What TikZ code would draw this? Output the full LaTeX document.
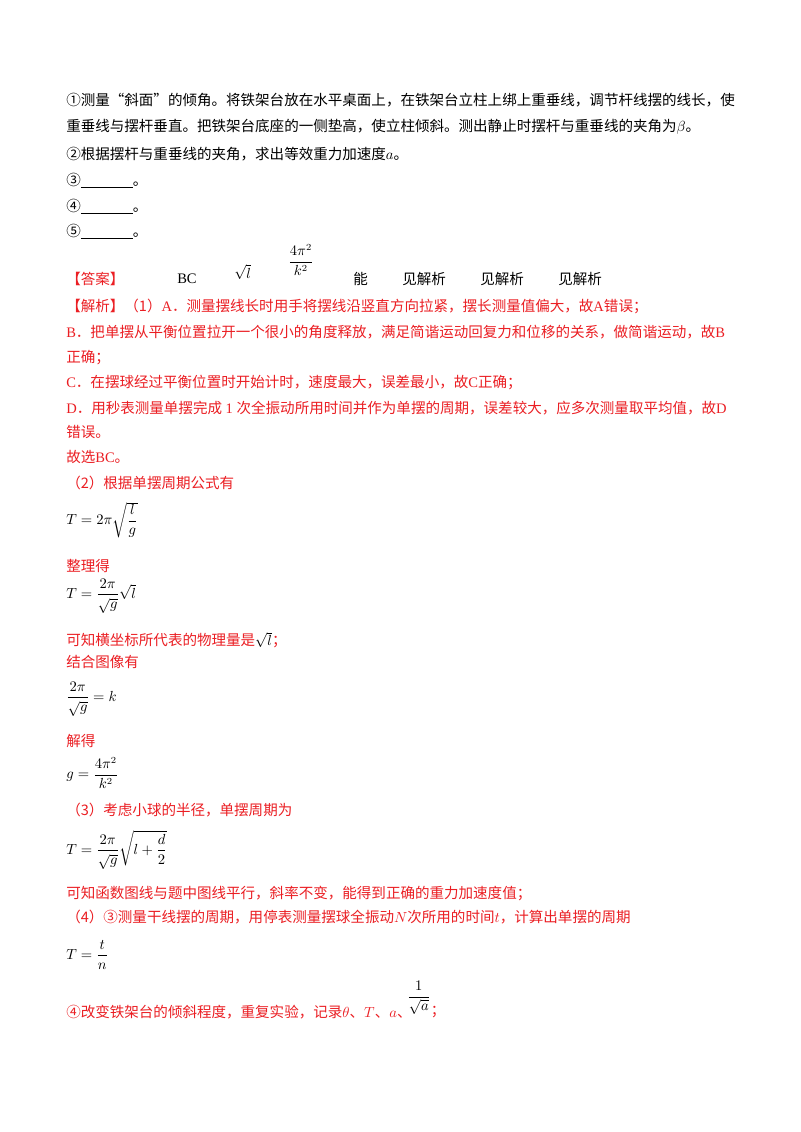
\documentclass[tikz,border=0pt]{standalone}
\usepackage{fontspec}
\usepackage{amsmath}
\setmainfont{Liberation Serif}
\newfontfamily\cjk{Noto Sans CJK SC}
\definecolor{ansred}{RGB}{235,30,35}
\newcommand{\ml}[1]{{\rmfamily #1}}
\begin{document}
\begin{tikzpicture}[x=0.75pt,y=-0.75pt,
  tl/.style={anchor=west,inner sep=0pt,font=\fontsize{10.9pt}{13pt}\selectfont\cjk},
  rl/.style={tl,text=ansred},
  eq/.style={anchor=west,inner sep=0pt,font=\fontsize{10.5pt}{12.5pt}\selectfont}]
\useasboundingbox (0,0) rectangle (800,1132);
\fill[white] (0,0) rectangle (800,1132);
\node[tl] (l1) at (66,100) {①测量“斜面”的倾角。将铁架台放在水平桌面上，在铁架台立柱上绑上重垂线，调节杆线摆的线长，使};
\node[tl] (l2) at (66,127) {重垂线与摆杆垂直。把铁架台底座的一侧垫高，使立柱倾斜。测出静止时摆杆与重垂线的夹角为$\beta$。};
\node[tl] (l3) at (66,154) {②根据摆杆与重垂线的夹角，求出等效重力加速度$a$。};
\node[tl] (l4) at (66,181) {③\ml{\underline{\hspace{39pt}}}。};
\node[tl] (l5) at (66,207) {④\ml{\underline{\hspace{39pt}}}。};
\node[tl] (l6) at (66,232) {⑤\ml{\underline{\hspace{39pt}}}。};
\node[rl] (a0) at (66,279) {【答案】};
\node[tl] (a1) at (177,279) {\ml{BC}};
\node[eq] (a2) at (234,272) {$\sqrt{l}$};
\node[eq] (a3) at (288,260) {$\dfrac{4\pi^2}{k^2}$};
\node[tl] (a4) at (353,279) {能};
\node[tl] (a5) at (402,279) {见解析};
\node[tl] (a6) at (480,279) {见解析};
\node[tl] (a7) at (558,279) {见解析};
\node[rl] (j1) at (66,306) {【解析】（1）\ml{A}．测量摆线长时用手将摆线沿竖直方向拉紧，摆长测量值偏大，故\ml{A}错误；};
\node[rl] (j2) at (66,332) {\ml{B}．把单摆从平衡位置拉开一个很小的角度释放，满足简谐运动回复力和位移的关系，做简谐运动，故\ml{B}};
\node[rl] (j3) at (66,358) {正确；};
\node[rl] (j4) at (66,383) {\ml{C}．在摆球经过平衡位置时开始计时，速度最大，误差最小，故\ml{C}正确；};
\node[rl] (j5) at (66,408) {\ml{D}．用秒表测量单摆完成\ml{ 1 }次全振动所用时间并作为单摆的周期，误差较大，应多次测量取平均值，故\ml{D}};
\node[rl] (j6) at (66,432) {错误。};
\node[rl] (j7) at (66,457) {故选\ml{BC}。};
\node[rl] (j8) at (66,483) {（2）根据单摆周期公式有};
\node[eq] (e1) at (66,520) {$T=2\pi\sqrt{\dfrac{l}{g}}$};
\node[rl] (j9) at (66,566) {整理得};
\node[eq] (e2) at (66,596) {$T=\dfrac{2\pi}{\sqrt{g}}\sqrt{l}$};
\node[rl] (j10) at (66,640) {可知横坐标所代表的物理量是$\color{black}\sqrt{l}$；};
\node[rl] (j11) at (66,662) {结合图像有};
\node[eq] (e3) at (66,699) {$\dfrac{2\pi}{\sqrt{g}}=k$};
\node[rl] (j12) at (66,741) {解得};
\node[eq] (e4) at (66,773) {$g=\dfrac{4\pi^2}{k^2}$};
\node[rl] (j13) at (66,810) {（3）考虑小球的半径，单摆周期为};
\node[eq] (e5) at (66,850) {$T=\dfrac{2\pi}{\sqrt{g}}\sqrt{l+\dfrac{d}{2}}$};
\node[rl] (j14) at (66,893) {可知函数图线与题中图线平行，斜率不变，能得到正确的重力加速度值；};
\node[rl] (j15) at (66,917) {（4）③测量干线摆的周期，用停表测量摆球全振动$N$次所用的时间$t$，计算出单摆的周期};
\node[eq] (e6) at (66,955) {$T=\dfrac{t}{n}$};
\node[rl] (j16) at (66,1012) {④改变铁架台的倾斜程度，重复实验，记录$\theta$、$T$、$a$、};
\node[eq] (e7) at (407,998) {$\dfrac{1}{\sqrt{a}}$};
\node[rl,anchor=west] (j17) at (e7.east |- j16.west) {；};
\end{tikzpicture}
\end{document}
